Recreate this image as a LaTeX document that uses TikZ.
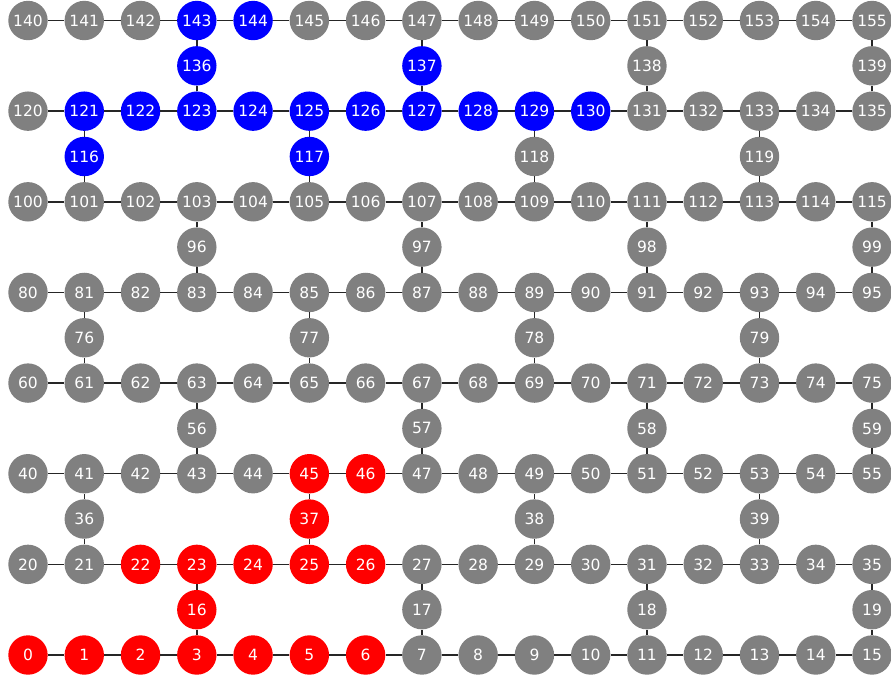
\documentclass[tikz,border=0pt]{standalone}
\usepackage{fontspec}
\setmainfont{DejaVu Sans}
\definecolor{gnode}{HTML}{808080}
\definecolor{rnode}{HTML}{FF0000}
\definecolor{bnode}{HTML}{0000FF}
\begin{document}
\begin{tikzpicture}[x=1pt,y=1pt,
  qubit/.style={circle,minimum size=39.4pt,inner sep=0pt,text=white,
    font=\fontsize{15.5}{16}\selectfont},
  link/.style={line width=1.4pt,draw=black!85}]
\useasboundingbox (0,0) rectangle (891,-677);
\foreach \n in {0,1,2,3,4,5,6,16,22,23,24,25,26,37,45,46}{\expandafter\gdef\csname isred\n\endcsname{}}
\foreach \n in {143,144,136,121,122,123,124,125,126,127,128,129,130,116,117,137}{\expandafter\gdef\csname isblue\n\endcsname{}}
% main rows
\foreach \r in {0,...,7}{
  \foreach \c in {0,...,15}{
    \pgfmathtruncatemacro{\n}{20*\r+\c}
    \def\fc{gnode}
    \ifcsname isred\n\endcsname\def\fc{rnode}\fi
    \ifcsname isblue\n\endcsname\def\fc{bnode}\fi
    \node[qubit,fill=\fc] (n\n) at ({28+56.27*\c},{-(655-90.64*\r)}) {\n};
  }
}
% intermediate rows
\foreach \r in {0,...,6}{
  \foreach \k in {0,...,3}{
    \pgfmathtruncatemacro{\n}{20*\r+16+\k}
    \pgfmathtruncatemacro{\col}{(isodd(\r) ? 1 : 3)+4*\k}
    \def\fc{gnode}
    \ifcsname isred\n\endcsname\def\fc{rnode}\fi
    \ifcsname isblue\n\endcsname\def\fc{bnode}\fi
    \node[qubit,fill=\fc] (n\n) at ({28+56.27*\col},{-(655-90.64*(\r+0.5))}) {\n};
  }
}
% horizontal links
\foreach \r in {0,...,7}{
  \foreach \c in {0,...,14}{
    \pgfmathtruncatemacro{\a}{20*\r+\c}
    \pgfmathtruncatemacro{\b}{20*\r+\c+1}
    \draw[link] (n\a) -- (n\b);
  }
}
% vertical links
\foreach \r in {0,...,6}{
  \foreach \k in {0,...,3}{
    \pgfmathtruncatemacro{\m}{20*\r+16+\k}
    \pgfmathtruncatemacro{\col}{(isodd(\r) ? 1 : 3)+4*\k}
    \pgfmathtruncatemacro{\lo}{20*\r+\col}
    \pgfmathtruncatemacro{\hi}{20*(\r+1)+\col}
    \draw[link] (n\lo) -- (n\m) -- (n\hi);
  }
}
\end{tikzpicture}
\end{document}
